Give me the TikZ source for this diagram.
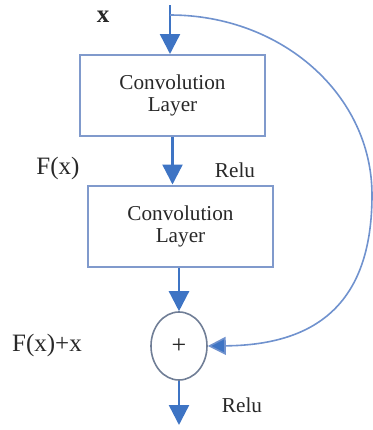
\documentclass[tikz,border=0pt]{standalone}
\usepackage{fontspec}
\setmainfont{Liberation Serif}
\usetikzlibrary{arrows.meta, positioning, calc, shapes.geometric}
\definecolor{flowblue}{RGB}{62,116,196}
\definecolor{boxblue}{RGB}{128,154,204}
\definecolor{skipblue}{RGB}{112,146,206}
\definecolor{ringgray}{RGB}{112,126,150}
\definecolor{inkgray}{RGB}{40,40,40}

\begin{document}
\begin{tikzpicture}[x=0.5pt, y=-0.5pt,
  convbox/.style={draw=boxblue, line width=1pt, minimum width=92.5pt, minimum height=40.5pt,
    inner sep=0pt, align=center, text=inkgray, font=\fontsize{10.6}{11}\selectfont},
  flow/.style={draw=flowblue, line width=1.2pt, -{Triangle[length=10pt, width=10pt, fill=flowblue]}},
  skip/.style={draw=skipblue, line width=0.8pt, -{Triangle[length=9pt, width=9pt, fill=flowblue]}},
  lbl/.style={text=inkgray, font=\fontsize{12.5}{14}\selectfont},
  act/.style={text=inkgray, font=\fontsize{10.6}{12}\selectfont}]
  \useasboundingbox (0,0) rectangle (373,430);
  % Input and the point where the shortcut leaves
  \coordinate (xin) at (170,5);
  \coordinate (split) at (170,15);
  \node[lbl, font=\bfseries\fontsize{12.5}{14}\selectfont] (xlbl) at (103,17) {x};
  % Two convolution layers
  \node[convbox] (conv1) at (172.5,95.5) {Convolution\\Layer};
  \node[convbox] (conv2) at (180.5,226) {Convolution\\Layer};
  \node[lbl] (fx) at (58,168) {F(x)};
  \node[act] (relu1) at (235,170) {Relu};
  % Sum of the branch and the shortcut
  \node[draw=ringgray, ellipse, line width=0.8pt, minimum width=28pt, minimum height=34pt,
    inner sep=0pt, text=inkgray, font=\fontsize{13}{14}\selectfont] (sum) at (179,346) {+};
  \node[lbl] (fxx) at (47,345) {F(x)+x};
  \node[act] (relu2) at (242,405) {Relu};
  \coordinate (out) at (179,425);
  % Main path
  \draw[flow] (xin) -- (xin |- conv1.north);
  \draw[flow] (conv1.south) -- (conv1.south |- conv2.north);
  \draw[flow] (conv2.south -| sum.north) -- (sum.north);
  \draw[flow] (sum.south) -- (out);
  % Shortcut
  \draw[skip] (split) .. controls (282,15) and (372,95) .. (372,195)
    .. controls (372,300) and (320,345) .. (sum.east);
\end{tikzpicture}
\end{document}
